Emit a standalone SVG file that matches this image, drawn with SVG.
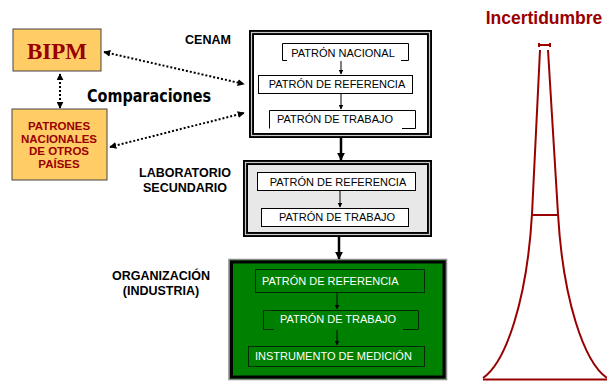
<svg xmlns="http://www.w3.org/2000/svg" width="607" height="381" viewBox="0 0 607 381">
<defs>
<marker id="ah" viewBox="0 0 10 10" refX="9" refY="5" markerWidth="5" markerHeight="5" orient="auto-start-reverse" markerUnits="userSpaceOnUse"><path d="M0,0 L10,5 L0,10 z" fill="#000"/></marker>
<marker id="ahd" viewBox="0 0 10 10" refX="9" refY="5" markerWidth="7" markerHeight="7" orient="auto-start-reverse" markerUnits="userSpaceOnUse"><path d="M0,0 L10,5 L0,10 z" fill="#000"/></marker>
<marker id="ahb" viewBox="0 0 10 10" refX="9" refY="5" markerWidth="8" markerHeight="8" orient="auto" markerUnits="userSpaceOnUse"><path d="M0,0 L10,5 L0,10 z" fill="#000"/></marker>
</defs>
<style>
.t{font-family:"Liberation Sans",Arial,sans-serif;font-size:11px;fill:#000;text-anchor:middle}
.tw{font-family:"Liberation Sans",Arial,sans-serif;font-size:11px;fill:#fff}
.lb{font-family:"Liberation Sans",Arial,sans-serif;font-size:12.5px;font-weight:bold;fill:#000;text-anchor:middle}
.ib{fill:#fff;stroke:#000;stroke-width:1}
.ig{fill:none;stroke:#002a00;stroke-width:1}
.br{fill:none;stroke:#000;stroke-width:1}
.ia{stroke:#000;stroke-width:1;marker-end:url(#ah)}
.dot{fill:none;stroke:#000;stroke-width:2;stroke-dasharray:2 2;marker-start:url(#ahd);marker-end:url(#ahd)}
.red{fill:none;stroke:#9a0000;stroke-width:2}
.yb{fill:#ffcc66;stroke:#444;stroke-width:1}
</style>

<g id="bipm">
<rect class="yb" x="13" y="29" width="88" height="42"/>
<text x="57" y="59" font-family="'Liberation Serif','Times New Roman',serif" font-size="23" font-weight="bold" fill="#990000" text-anchor="middle">BIPM</text>
</g>

<g id="patrones-otros">
<rect class="yb" x="12" y="109" width="95" height="71"/>
<g font-family="'Liberation Sans',Arial,sans-serif" font-size="11.5" font-weight="bold" fill="#990000" text-anchor="middle">
<text x="59" y="130">PATRONES</text>
<text x="59" y="143">NACIONALES</text>
<text x="59" y="155">DE OTROS</text>
<text x="59" y="168">PAÍSES</text>
</g>
</g>

<g id="comparaciones">
<text x="87" y="102" font-family="'DejaVu Sans',sans-serif" font-size="17" font-weight="bold" fill="#000" textLength="124" lengthAdjust="spacingAndGlyphs">Comparaciones</text>
</g>

<g id="labels">
<text class="lb" x="208" y="44">CENAM</text>
<text class="lb" x="185" y="177">LABORATORIO</text>
<text class="lb" x="185" y="192">SECUNDARIO</text>
<text class="lb" x="161" y="280">ORGANIZACIÓN</text>
<text class="lb" x="161" y="295">(INDUSTRIA)</text>
</g>

<g id="cenam">
<rect x="251.5" y="32.5" width="178" height="103" fill="#fff" stroke="#000" stroke-width="5"/>
<rect x="251.5" y="32.5" width="178" height="103" fill="none" stroke="#c8c8c8" stroke-width="1.2"/>
<path class="br" d="M287,60.5 H282.5 V43.5 H408.5 V60.5 H401"/>
<text class="t" x="343" y="57">PATRÓN NACIONAL</text>
<line class="ia" x1="341" y1="61" x2="341" y2="74"/>
<rect class="ib" x="258.5" y="75.5" width="154" height="18"/>
<text class="t" x="337" y="88">PATRÓN DE REFERENCIA</text>
<line class="ia" x1="341" y1="94" x2="341" y2="109"/>
<path class="br" d="M269.5,128.5 V110.5 H415.5 V128.5 H402"/>
<text class="t" x="335" y="123">PATRÓN DE TRABAJO</text>
</g>

<g id="laboratorio">
<rect x="245.5" y="162.5" width="184" height="72" fill="#e8e8e8" stroke="#000" stroke-width="5"/>
<rect x="245.5" y="162.5" width="184" height="72" fill="none" stroke="#c8c8c8" stroke-width="1.2"/>
<rect class="ib" x="257.5" y="172.5" width="158" height="18"/>
<text class="t" x="338" y="186">PATRÓN DE REFERENCIA</text>
<line class="ia" x1="340" y1="191" x2="340" y2="207"/>
<rect class="ib" x="261.5" y="208.5" width="147" height="18"/>
<text class="t" x="337" y="221">PATRÓN DE TRABAJO</text>
</g>

<g id="organizacion">
<rect x="229" y="259.5" width="217.5" height="120" fill="#008000" stroke="#8a8a8a" stroke-width="1.5"/>
<rect x="231.5" y="262" width="212.5" height="115" fill="none" stroke="#000" stroke-width="3"/>
<rect class="ig" x="255.5" y="269.5" width="169" height="23"/>
<text class="tw" x="262" y="285">PATRÓN DE REFERENCIA</text>
<line class="ia" x1="337" y1="293" x2="337" y2="309"/>
<path class="ig" d="M274,329.5 H263.5 V310.5 H418.5 V329.5 H403"/>
<text class="tw" x="338" y="323" text-anchor="middle">PATRÓN DE TRABAJO</text>
<line class="ia" x1="337" y1="330" x2="337" y2="345"/>
<rect class="ig" x="248.5" y="346.5" width="176" height="20"/>
<text class="tw" x="255" y="360">INSTRUMENTO DE MEDICIÓN</text>
</g>

<g id="connectors">
<line x1="341" y1="138" x2="341" y2="160" stroke="#000" stroke-width="2.5" marker-end="url(#ahb)"/>
<line x1="339" y1="237" x2="339" y2="259" stroke="#000" stroke-width="2.5" marker-end="url(#ahb)"/>
<line class="dot" x1="104" y1="52" x2="244" y2="84"/>
<line class="dot" x1="60" y1="74" x2="60" y2="108"/>
<line class="dot" x1="110" y1="147" x2="244" y2="113"/>
</g>

<g id="incertidumbre">
<text x="544" y="24" font-family="'Liberation Sans',Arial,sans-serif" font-size="17.5" font-weight="bold" fill="#9a0000" text-anchor="middle">Incertidumbre</text>
<path class="red" d="M539,45 H550 M539,43 V47 M550,43 V47"/>
<path class="red" d="M540,50 L532,214 C527,300 506,362 483,378"/>
<path class="red" d="M548,50 L558,214 C563,300 584,362 607,378"/>
<path class="red" d="M532,215 H558"/>
<path class="red" d="M483,379.5 H607"/>
</g>
</svg>
